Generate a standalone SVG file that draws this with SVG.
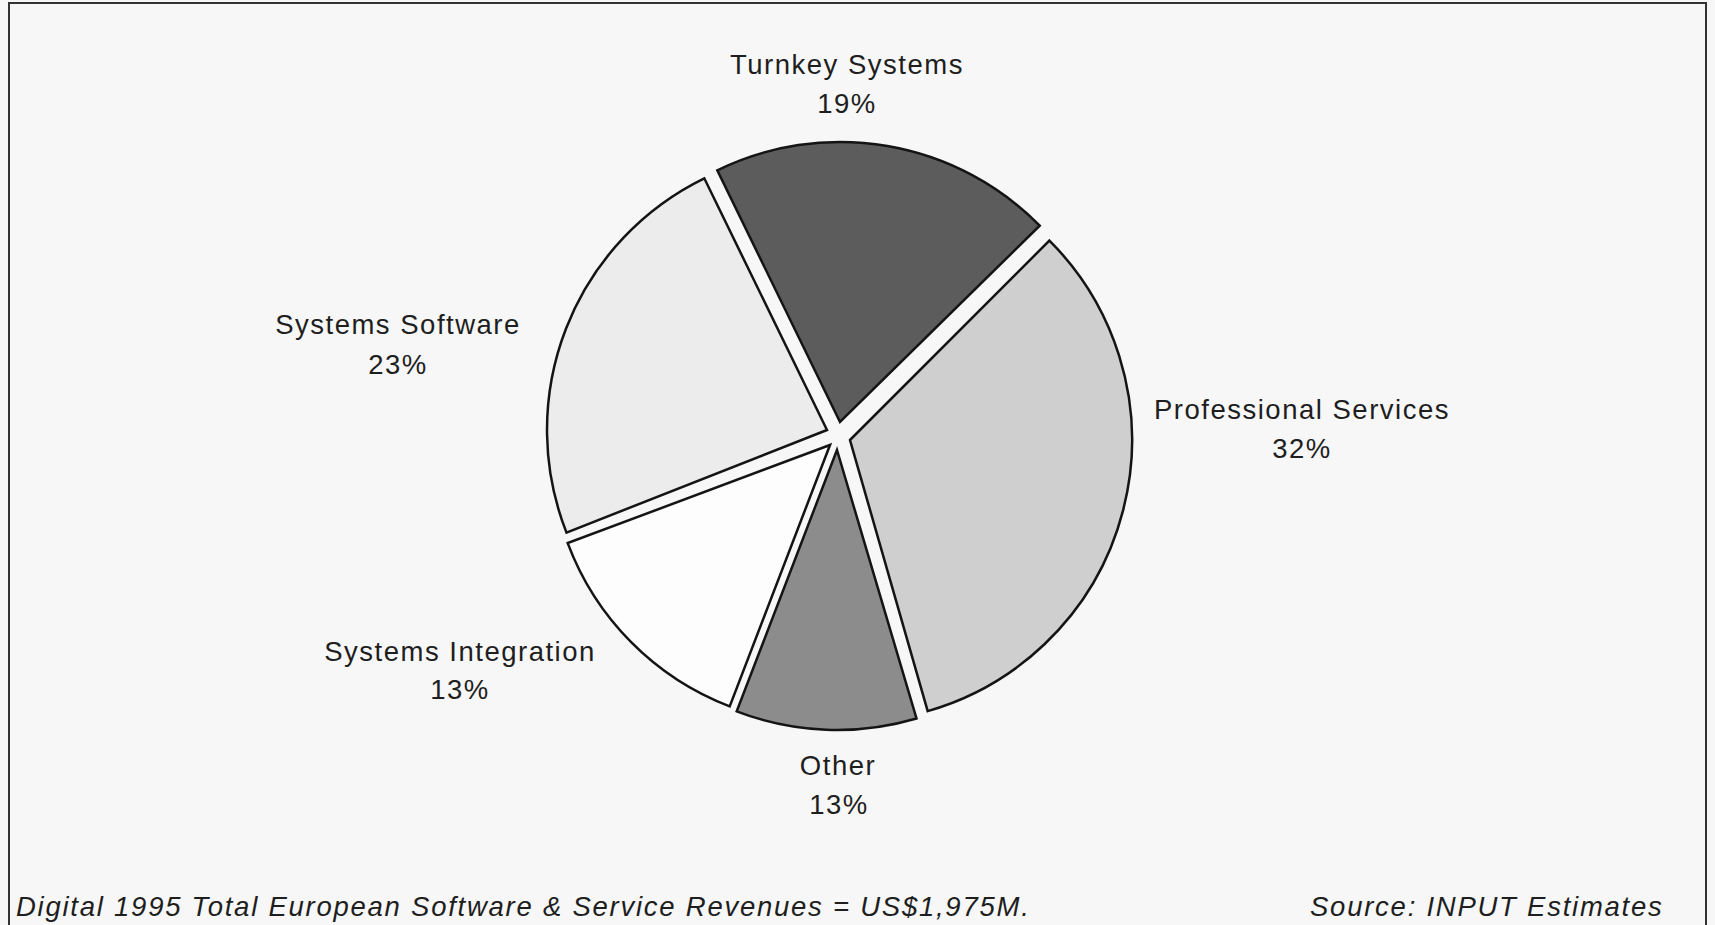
<svg xmlns="http://www.w3.org/2000/svg" width="1715" height="925" viewBox="0 0 1715 925">
<style>
.bg{fill:#f7f7f7}
.frame{fill:none;stroke:#333;stroke-width:2}
.slice{stroke:#141414;stroke-width:2.5;stroke-linejoin:miter}
.lbl{font-family:"Liberation Sans",Arial,sans-serif;font-size:27.5px;letter-spacing:1.5px;fill:#1e1e1e;text-anchor:middle}
.cap{font-family:"Liberation Sans",Arial,sans-serif;font-size:27.5px;letter-spacing:1.75px;fill:#1e1e1e;font-style:italic}
</style>
<rect class="bg" x="0" y="0" width="1715" height="925"/>
<path class="frame" d="M9,925 L9,3 L1706,3 L1706,925"/>
<g id="turnkey">
<path class="slice" fill="#5c5c5c" d="M840,422 L717.3,170.3 A280,280 0 0 1 1039.7,225.7 Z"/>
<text class="lbl" x="847" y="74">Turnkey Systems</text>
<text class="lbl" x="847" y="113">19%</text>
</g>
<g id="professional-services">
<path class="slice" fill="#cfcfcf" d="M850,440 L1049.4,240.6 A282,282 0 0 1 927.7,711.1 Z"/>
<text class="lbl" x="1302" y="419">Professional Services</text>
<text class="lbl" x="1302" y="458">32%</text>
</g>
<g id="other">
<path class="slice" fill="#8c8c8c" d="M837,450 L916.5,718.5 A280,280 0 0 1 736.7,711.4 Z"/>
<text class="lbl" x="838" y="775">Other</text>
<text class="lbl" x="839" y="814">13%</text>
</g>
<g id="systems-integration">
<path class="slice" fill="#fdfdfd" d="M830,445 L729.7,706.4 A280,280 0 0 1 567.7,543.1 Z"/>
<text class="lbl" x="460" y="661">Systems Integration</text>
<text class="lbl" x="460" y="699">13%</text>
</g>
<g id="systems-software">
<path class="slice" fill="#ececec" d="M827,430 L566.5,532.6 A280,280 0 0 1 704.3,178.3 Z"/>
<text class="lbl" x="398" y="334">Systems Software</text>
<text class="lbl" x="398" y="374">23%</text>
</g>
<g id="connectors"/>
<g id="caption">
<text class="cap" x="16" y="916">Digital 1995 Total European Software &amp; Service Revenues = US$1,975M.</text>
<text class="cap" x="1310" y="916">Source: INPUT Estimates</text>
</g>
</svg>
